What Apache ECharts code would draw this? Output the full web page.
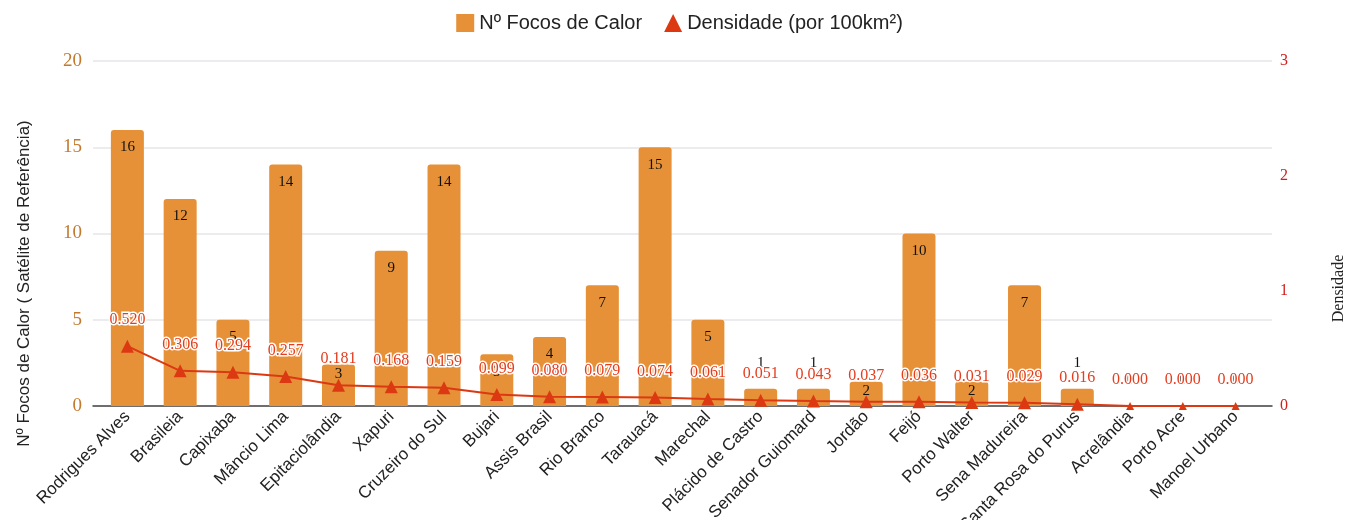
<!DOCTYPE html>
<html>
<head>
<meta charset="utf-8">
<script src="https://cdn.jsdelivr.net/npm/echarts@6/dist/echarts.min.js"></script>
<style>html,body{margin:0;padding:0;background:#fff}#c{width:1359px;height:520px}</style>
</head>
<body>
<div id="c"></div>
<script>
const categories = ['Rodrigues Alves','Brasileia','Capixaba','Mâncio Lima','Epitaciolândia','Xapuri','Cruzeiro do Sul','Bujari','Assis Brasil','Rio Branco','Tarauacá','Marechal','Plácido de Castro','Senador Guiomard','Jordão','Feijó','Porto Walter','Sena Madureira','Santa Rosa do Purus','Acrelândia','Porto Acre','Manoel Urbano'];
// bar heights as drawn in the reference
const barHeights = [16,12,5,14,2.4,9,14,3,4,7,15,5,1,1,1.4,10,1.4,7,1,0,0,0];
// count labels printed on the bars
const focusCounts = [16,12,5,14,3,9,14,3,4,7,15,5,1,1,2,10,2,7,1,0,0,0];
const density = [0.520,0.306,0.294,0.257,0.181,0.168,0.159,0.099,0.080,0.079,0.074,0.061,0.051,0.043,0.037,0.036,0.031,0.029,0.016,0.000,0.000,0.000];
const leftTicks = {min:0, max:20, interval:5};
const rightTicks = {min:0, max:3, interval:1};

const chart = echarts.init(document.getElementById('c'), null, {renderer:'canvas'});
const serif = 'Liberation Serif';
const sans = 'Liberation Sans';
const option = {
  animation: false,
  legend: {
    top: 8, left: 'center', itemWidth: 18, itemHeight: 18, itemGap: 22,
    textStyle: {fontFamily: sans, fontSize: 20, color: '#222'},
    data: [{name: 'Nº Focos de Calor', icon: 'rect'}, {name: 'Densidade (por 100km²)', icon: 'triangle'}]
  },
  grid: [
    {left: 93, right: 87, top: 61, bottom: 114, containLabel: false, outerBoundsMode: 'none'},
    {left: 101, right: 97, top: 61, bottom: 114, containLabel: false, outerBoundsMode: 'none'}
  ],
  xAxis: [
    {type: 'category', gridIndex: 0, data: categories,
     axisLine: {lineStyle: {color: '#444', width: 1.5}}, axisTick: {show: false}, axisLabel: {show: false}},
    {type: 'category', gridIndex: 1, data: categories,
     axisLine: {show: false}, axisTick: {show: false},
     axisLabel: {rotate: 45, margin: 8, interval: 0, fontFamily: sans, fontSize: 17, color: '#222'}}
  ],
  yAxis: [
    {type: 'value', gridIndex: 0, min: leftTicks.min, max: leftTicks.max, interval: leftTicks.interval,
     name: 'Nº Focos de Calor ( Satélite de Referência)', nameLocation: 'middle', nameGap: 60,
     nameTextStyle: {fontFamily: sans, fontSize: 17, color: '#222', padding: [0, 100, 0, 0]},
     axisLine: {show: false}, axisTick: {show: false},
     axisLabel: {margin: 11, color: '#c27a2e', fontFamily: serif, fontSize: 19},
     splitLine: {lineStyle: {color: '#e6e6ea', width: 1.5}}},
    {type: 'value', gridIndex: 0, position: 'right', min: rightTicks.min, max: rightTicks.max, interval: rightTicks.interval,
     name: 'Densidade', nameLocation: 'middle', nameRotate: 90, nameGap: 59,
     nameTextStyle: {fontFamily: serif, fontSize: 16, color: '#222', padding: [0, 110, 0, 0]},
     axisLine: {show: false}, axisTick: {show: false}, splitLine: {show: false},
     axisLabel: {margin: 8, color: '#d0201e', fontFamily: serif, fontSize: 16}},
    {type: 'value', gridIndex: 1, min: leftTicks.min, max: leftTicks.max, show: false},
    {type: 'value', gridIndex: 1, min: rightTicks.min, max: rightTicks.max, show: false}
  ],
  series: [
    {
      name: 'Nº Focos de Calor', type: 'bar', xAxisIndex: 1, yAxisIndex: 2, z: 2,
      barWidth: 33,
      itemStyle: {color: '#e69138', borderRadius: [3, 3, 0, 0]},
      label: {show: true, position: 'insideTop', distance: 10, fontFamily: serif, fontSize: 15, color: '#111',
              formatter: p => String(focusCounts[p.dataIndex])},
      data: barHeights.map(v => v < 1.2 ? {value: v, label: {position: 'top', distance: 18}}
                                 : (v < 2.5 ? {value: v, label: {distance: 2}} : v))
    },
    {
      name: 'Densidade (por 100km²)', type: 'line', xAxisIndex: 1, yAxisIndex: 3, z: 3,
      symbol: 'triangle', symbolSize: v => v > 0 ? 13 : 8,
      lineStyle: {color: '#dc3912', width: 2},
      itemStyle: {color: '#dc3912'},
      label: {show: true, position: 'inside', offset: [0, -26], fontFamily: serif, fontSize: 16, color: '#e53d1e',
              textBorderColor: '#fff', textBorderWidth: 3,
              formatter: p => Number(p.value).toFixed(3)},
      data: density
    }
  ]
};
chart.setOption(option);
</script>
</body>
</html>
